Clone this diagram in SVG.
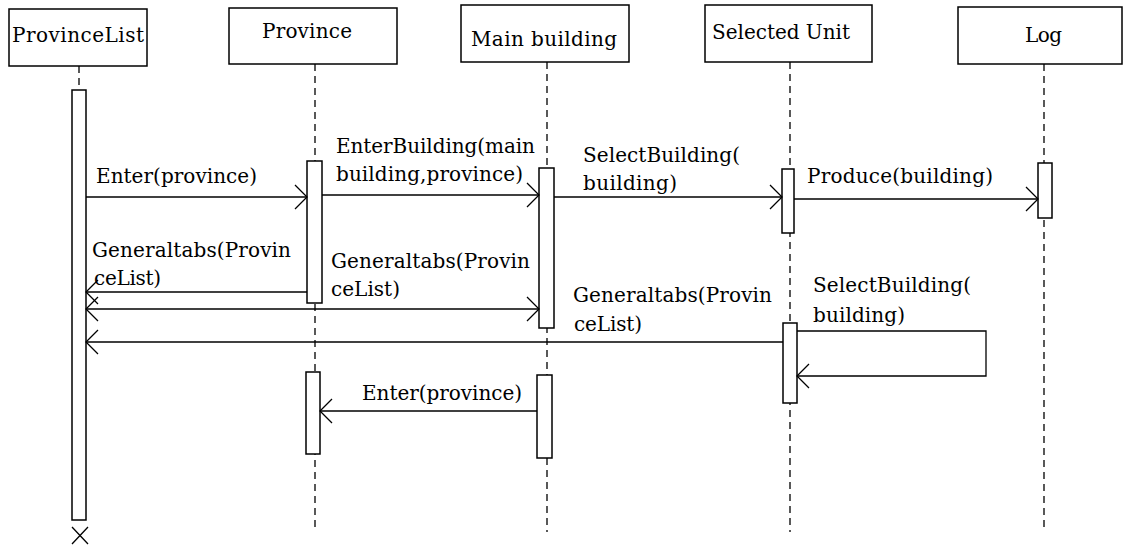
<svg xmlns="http://www.w3.org/2000/svg" width="1123" height="546" viewBox="0 0 1123 546">
  <style>
    text { font-family: "DejaVu Serif", "Liberation Serif", serif; font-size: 20px; fill: #000; }
    .box { fill: #fff; stroke: #000; stroke-width: 1.5; }
    .bar { fill: #fff; stroke: #000; stroke-width: 1.5; }
    .life { stroke: #000; stroke-width: 1.3; stroke-dasharray: 7 5; fill: none; }
    .msg { stroke: #000; stroke-width: 1.3; fill: none; marker-end: url(#open); }
    .both { marker-start: url(#openStart); }
  </style>
  <defs>
    <marker id="open" viewBox="0 -13 14 26" refX="13" refY="0" markerWidth="14" markerHeight="26" markerUnits="userSpaceOnUse" orient="auto">
      <path d="M1,-12 L13,0 L1,12" fill="none" stroke="#000" stroke-width="1.3"/>
    </marker>
    <marker id="openStart" viewBox="0 -13 14 26" refX="13" refY="0" markerWidth="14" markerHeight="26" markerUnits="userSpaceOnUse" orient="auto-start-reverse">
      <path d="M1,-12 L13,0 L1,12" fill="none" stroke="#000" stroke-width="1.3"/>
    </marker>
  </defs>
  <rect width="1123" height="546" fill="#fff"/>

  <!-- lifelines -->
  <g id="lifelines">
    <line class="life" x1="79" y1="66" x2="79" y2="90"/>
    <line class="life" x1="315" y1="64" x2="315" y2="532"/>
    <line class="life" x1="547" y1="62" x2="547" y2="532"/>
    <line class="life" x1="790" y1="62" x2="790" y2="532"/>
    <line class="life" x1="1044" y1="64" x2="1044" y2="532"/>
  </g>

  <g id="ProvinceList">
    <rect class="box" x="9" y="9" width="138" height="57"/>
    <text x="12" y="42" textLength="132">ProvinceList</text>
    <rect class="bar" x="72" y="90" width="14" height="430"/>
    <path d="M72,527 L88,544 M88,527 L72,544" stroke="#000" stroke-width="1.3"/>
  </g>

  <g id="Province">
    <rect class="box" x="229" y="8" width="168" height="56"/>
    <text x="262" y="38" textLength="90">Province</text>
    <rect class="bar" x="307" y="161" width="15" height="142"/>
    <rect class="bar" x="306" y="372" width="14" height="82"/>
  </g>

  <g id="MainBuilding">
    <rect class="box" x="461" y="5" width="168" height="57"/>
    <text x="471" y="46" textLength="146">Main building</text>
    <rect class="bar" x="539" y="168" width="15" height="160"/>
    <rect class="bar" x="537" y="375" width="15" height="83"/>
  </g>

  <g id="SelectedUnit">
    <rect class="box" x="705" y="5" width="167" height="57"/>
    <text x="712" y="39" textLength="138">Selected Unit</text>
    <rect class="bar" x="782" y="169" width="12" height="64"/>
    <rect class="bar" x="783" y="323" width="14" height="80"/>
  </g>

  <g id="Log">
    <rect class="box" x="958" y="7" width="164" height="57"/>
    <text x="1025" y="42" textLength="37">Log</text>
    <rect class="bar" x="1038" y="163" width="14" height="55"/>
  </g>

  <!-- messages -->
  <g id="connectors">
    <line class="msg" x1="86" y1="197" x2="307" y2="197"/>
    <line class="msg" x1="322" y1="195" x2="539" y2="195"/>
    <line class="msg" x1="554" y1="197" x2="782" y2="197"/>
    <line class="msg" x1="794" y1="199" x2="1038" y2="199"/>
    <line class="msg" x1="307" y1="292" x2="86" y2="292"/>
    <line class="msg both" x1="86" y1="309" x2="539" y2="309"/>
    <line class="msg" x1="783" y1="342" x2="86" y2="342"/>
    <path class="msg" d="M797,331 H986 V376 H797"/>
    <line class="msg" x1="537" y1="411" x2="320" y2="411"/>
  </g>

  <g id="labels">
    <text x="96" y="183" textLength="161">Enter(province)</text>
    <text x="336" y="153" textLength="199">EnterBuilding(main</text>
    <text x="336" y="181" textLength="187">building,province)</text>
    <text x="583" y="162" textLength="157">SelectBuilding(</text>
    <text x="583" y="190" textLength="94">building)</text>
    <text x="807" y="183" textLength="186">Produce(building)</text>
    <text x="92" y="257" textLength="199">Generaltabs(Provin</text>
    <text x="94" y="285" textLength="67">ceList)</text>
    <text x="331" y="268" textLength="199">Generaltabs(Provin</text>
    <text x="331" y="296" textLength="69">ceList)</text>
    <text x="573" y="302" textLength="199">Generaltabs(Provin</text>
    <text x="574" y="331" textLength="68">ceList)</text>
    <text x="813" y="292" textLength="158">SelectBuilding(</text>
    <text x="813" y="322" textLength="92">building)</text>
    <text x="362" y="400" textLength="160">Enter(province)</text>
  </g>
</svg>
